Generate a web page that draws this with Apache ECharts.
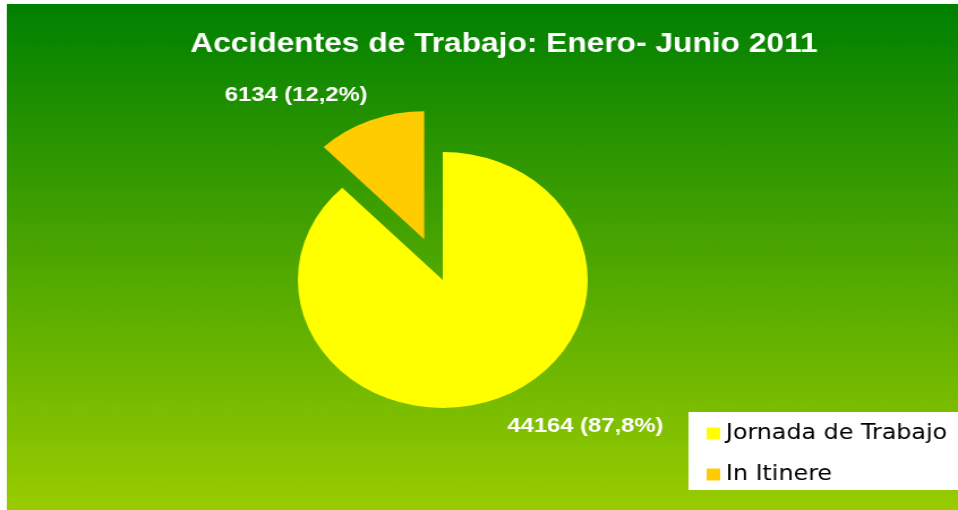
<!DOCTYPE html>
<html>
<head>
<meta charset="utf-8">
<title>Accidentes de Trabajo</title>
<script src="https://cdn.jsdelivr.net/npm/echarts@6/dist/echarts.min.js"></script>
<style>
html, body { margin: 0; padding: 0; background: #fff; overflow: hidden; }
#wrap { width: 958px; height: 510px; overflow: hidden; }
/* the original picture is stretched sideways, so the chart is too */
#chart { width: 846px; height: 510px; transform: scaleX(1.1324); transform-origin: 0 0; }
</style>
</head>
<body>
<div id="wrap"><div id="chart"></div></div>
<script>
// data
const categories = ["Jornada de Trabajo", "In Itinere"];
const values = [44164, 6134];
const colors = ["#ffff00", "#ffcc00"];

// how far each value label sits from its slice: [labelLine length, gap to text]
const labelPlace = [[30, -2], [27, -8]];

const chart = echarts.init(document.getElementById("chart"));

chart.setOption({
  animation: false,
  graphic: [{
    type: "rect",
    z: -10,
    silent: true,
    shape: { x: 6, y: 4, width: 840, height: 506 },
    style: {
      fill: new echarts.graphic.LinearGradient(0, 0, 0, 1, [
        { offset: 0, color: "#008000" },
        { offset: 1, color: "#99cc00" }
      ])
    }
  }],
  title: {
    text: "Accidentes de Trabajo: Enero- Junio 2011",
    left: 440,
    top: 25,
    textAlign: "center",
    textStyle: {
      color: "#fff",
      fontFamily: "Liberation Sans, Arial, sans-serif",
      fontWeight: "bold",
      fontSize: 28
    }
  },
  legend: {
    orient: "vertical",
    left: 608,
    top: 412,
    padding: [11, 40, 5, 16],
    itemGap: 20,
    itemWidth: 12,
    itemHeight: 12,
    icon: "rect",
    backgroundColor: "#fff",
    selectedMode: false,
    data: categories.map((n, i) => ({ name: n, itemStyle: { color: colors[i] } })),
    textStyle: {
      color: "#000",
      fontFamily: "DejaVu Sans, Verdana, sans-serif",
      fontSize: 21
    }
  },
  series: [{
    type: "pie",
    center: [391, 280],
    radius: 128,
    startAngle: 90,
    clockwise: true,
    silent: true,
    selectedMode: "single",
    selectedOffset: 44,
    percentPrecision: 1,
    itemStyle: { borderWidth: 0 },
    label: {
      show: true,
      position: "outside",
      color: "#fff",
      fontFamily: "Liberation Sans, Arial, sans-serif",
      fontWeight: "bold",
      fontSize: 21,
      formatter: p => p.value + " (" + String(p.percent.toFixed(1)).replace(".", ",") + "%)"
    },
    labelLine: { show: false },
    data: categories.map((n, i) => ({
      name: n,
      value: values[i],
      selected: i === 1,
      itemStyle: { color: colors[i] },
      label: { distanceToLabelLine: labelPlace[i][1] },
      labelLine: { show: false, length: labelPlace[i][0], length2: 0 }
    }))
  }]
});
</script>
</body>
</html>
